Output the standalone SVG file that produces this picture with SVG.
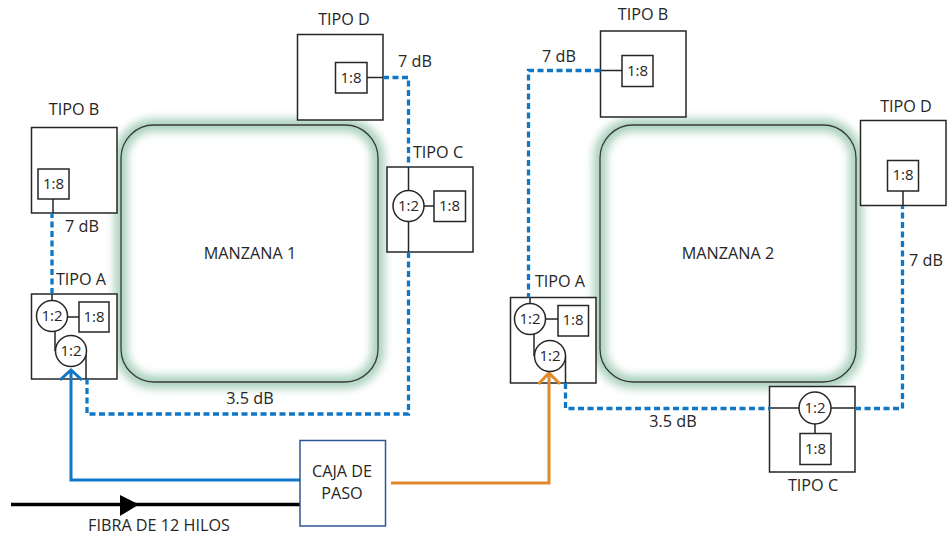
<svg xmlns="http://www.w3.org/2000/svg" width="947" height="535" viewBox="0 0 947 535">
<style>
text{font-family:"Open Sans","Noto Sans","Liberation Sans",sans-serif;font-size:16.200px;fill:#262626;text-anchor:middle}
text.r{font-size:15px}
.box,.sp{fill:#fff;stroke:#262626;stroke-width:1.500}
.zone{fill:#fff;stroke:none}
.halo{fill:none;stroke:#a9d0bd;stroke-width:13;filter:url(#glow)}
.edge{fill:none;stroke:#3a3a3a;stroke-width:1.300}
.w{fill:none;stroke:#262626;stroke-width:1.500}
.d{fill:none;stroke:#0f77c6;stroke-width:3.300;stroke-dasharray:6 3.500}
</style>
<defs>
<filter id="glow" x="-15%" y="-15%" width="130%" height="130%">
<feGaussianBlur stdDeviation="4.500"/>
</filter>
</defs>
<g id="zona1"><rect class="zone" x="121" y="125" width="257" height="257" rx="33"/><rect class="halo" x="121" y="125" width="257" height="257" rx="33"/><rect class="edge" x="121" y="125" width="257" height="257" rx="33"/><text x="250" y="259">MANZANA 1</text></g>
<g id="zona2"><rect class="zone" x="600" y="125" width="256" height="257" rx="33"/><rect class="halo" x="600" y="125" width="256" height="257" rx="33"/><rect class="edge" x="600" y="125" width="256" height="257" rx="33"/><text x="728" y="259">MANZANA 2</text></g>

<g id="l-tipo-a"><rect class="box" x="31.5" y="294" width="85.5" height="85"/><text x="81" y="285">TIPO A</text></g>
<g id="l-tipo-b"><rect class="box" x="31.5" y="127.500" width="85.500" height="85.500"/><text x="74" y="115">TIPO B</text></g>
<g id="l-tipo-c"><rect class="box" x="387" y="167" width="86" height="85"/><text x="438" y="158">TIPO C</text></g>
<g id="l-tipo-d"><rect class="box" x="297.500" y="34.500" width="85.500" height="85.500"/><text x="344" y="25">TIPO D</text></g>
<g id="r-tipo-a"><rect class="box" x="510.500" y="297.500" width="85.500" height="85.500"/><text x="560" y="287">TIPO A</text></g>
<g id="r-tipo-b"><rect class="box" x="600.500" y="31" width="85.500" height="86"/><text x="643" y="20">TIPO B</text></g>
<g id="r-tipo-c"><rect class="box" x="769.500" y="386.500" width="85.500" height="85.500"/><text x="813" y="491">TIPO C</text></g>
<g id="r-tipo-d"><rect class="box" x="860.500" y="120.500" width="85.500" height="85"/><text x="906" y="112">TIPO D</text></g>

<g id="connectors">
<path class="w" d="M52 294V301M55 331V351M67.500 317H79M86 351V379M53 199V213"/>
<path class="w" d="M367 77.500H383M408.500 167V190M408.500 222V252M424 206H434"/>
<path class="w" d="M530 297.500V304M534 334V356M545 319H558M565.500 356V383"/>
<path class="w" d="M622 70.500H600.500M903 191V205.500"/>
<path class="w" d="M770 408H799M831 408H855M815 424V433"/>
<path class="d" d="M52 294V213"/>
<path class="d" d="M383 77.500H408.500V167"/>
<path class="d" d="M408.500 252V414H87V379"/>
<path class="d" d="M600.500 70.500H528.500V297.500"/>
<path class="d" d="M565.500 383V408.500H770"/>
<path class="d" d="M855 408.500H902.500V206"/>
<path d="M302 480H71V372M60 380L71 370L82 380" fill="none" stroke="#0f77c6" stroke-width="3"/>
<path d="M391 483H549V375M538.500 384L549 373L560 384" fill="none" stroke="#e08a2a" stroke-width="3"/>
<path d="M11 504.500H300" fill="none" stroke="#000" stroke-width="3.500"/>
<path d="M120 495L139 504.500L120 516Z" fill="#000"/>
</g>

<g id="s12a"><circle class="sp" cx="52" cy="316" r="15.500"/><text class="r" x="52" y="321">1:2</text></g>
<g id="s18a"><rect class="sp" x="79" y="302" width="30" height="30"/><text class="r" x="94" y="322">1:8</text></g>
<g id="s12a2"><circle class="sp" cx="71" cy="351" r="15.500"/><text class="r" x="71" y="356">1:2</text></g>
<g id="s18b"><rect class="sp" x="38" y="169" width="31" height="30"/><text class="r" x="53.500" y="189">1:8</text></g>
<g id="s18d"><rect class="sp" x="335.500" y="62.500" width="31.500" height="30.500"/><text class="r" x="351" y="83">1:8</text></g>
<g id="s12c"><circle class="sp" cx="408.500" cy="206" r="15.500"/><text class="r" x="408.500" y="211">1:2</text></g>
<g id="s18c"><rect class="sp" x="434" y="191" width="31.500" height="30.500"/><text class="r" x="449.500" y="211">1:8</text></g>
<g id="r12a"><circle class="sp" cx="530" cy="319" r="15.500"/><text class="r" x="530" y="324">1:2</text></g>
<g id="r18a"><rect class="sp" x="558" y="305.500" width="30.500" height="30.500"/><text class="r" x="573" y="325">1:8</text></g>
<g id="r12a2"><circle class="sp" cx="550" cy="356" r="15.500"/><text class="r" x="550" y="361">1:2</text></g>
<g id="r18b"><rect class="sp" x="622" y="55.500" width="31" height="31"/><text class="r" x="637.500" y="76">1:8</text></g>
<g id="r12c"><circle class="sp" cx="815" cy="408" r="16"/><text class="r" x="815" y="413">1:2</text></g>
<g id="r18c"><rect class="sp" x="800" y="433.500" width="31" height="31"/><text class="r" x="815.500" y="454">1:8</text></g>
<g id="r18d"><rect class="sp" x="887.500" y="160.500" width="31" height="30.500"/><text class="r" x="903" y="180">1:8</text></g>

<g id="caja"><rect x="300" y="440.500" width="85.500" height="85.500" fill="#fff" stroke="#2f5597" stroke-width="1.500"/><text x="342" y="477">CAJA DE</text><text x="342" y="499">PASO</text></g>

<g id="labels">
<text x="415" y="67">7 dB</text>
<text x="82" y="232">7 dB</text>
<text x="250" y="404">3.5 dB</text>
<text x="559" y="62">7 dB</text>
<text x="673" y="427">3.5 dB</text>
<text x="926" y="266">7 dB</text>
<text x="159" y="531">FIBRA DE 12 HILOS</text>
</g>
</svg>
